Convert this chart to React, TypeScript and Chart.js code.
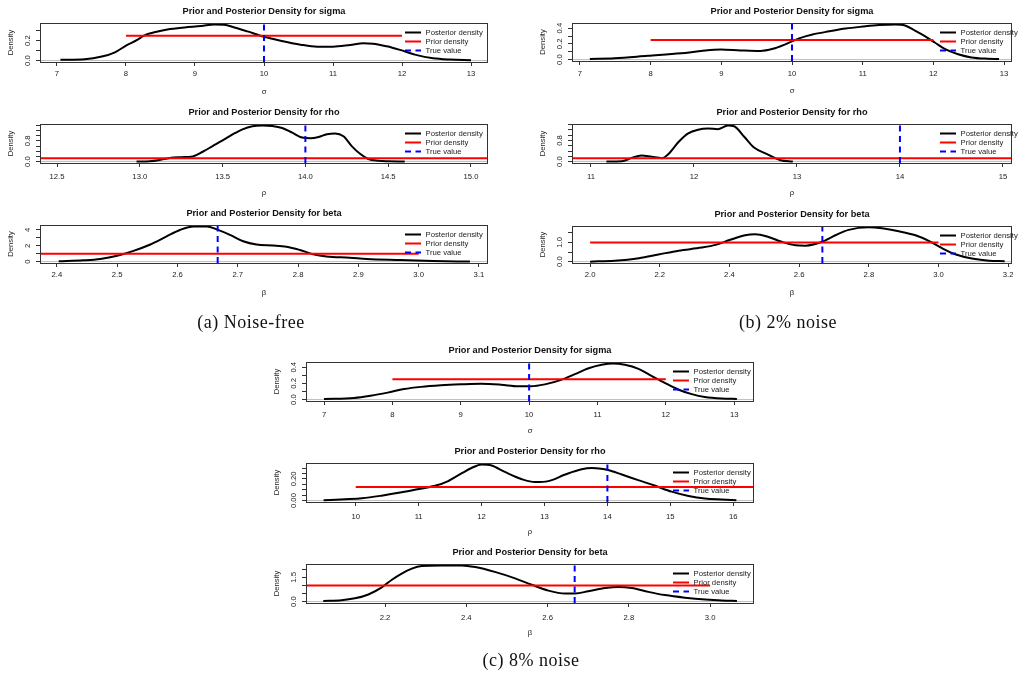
import React, { useEffect, useRef } from "react";
import { Chart, registerables } from "chart.js";

Chart.register(...registerables);
Chart.defaults.font.family = "'Liberation Sans', Arial, sans-serif";
Chart.defaults.color = "#222";

// ---------- posterior density curves ----------
const sigmaCleanX = [7.05, 7.4, 7.65, 7.84, 8.0, 8.17, 8.26, 8.46, 8.6, 8.85, 9.09, 9.28, 9.42, 9.57, 9.76, 10.0, 10.24, 10.53, 10.77, 11.0, 11.25, 11.44, 11.58, 11.78, 11.97, 12.2, 12.45, 12.7, 13.0];
const sigmaCleanY = [0.007, 0.013, 0.04, 0.083, 0.15, 0.21, 0.25, 0.293, 0.313, 0.333, 0.347, 0.363, 0.36, 0.333, 0.293, 0.24, 0.2, 0.16, 0.14, 0.14, 0.157, 0.173, 0.17, 0.143, 0.107, 0.057, 0.023, 0.01, 0.003];

const rhoCleanX = [12.98, 13.06, 13.12, 13.18, 13.25, 13.32, 13.38, 13.44, 13.5, 13.56, 13.62, 13.68, 13.74, 13.8, 13.86, 13.92, 13.98, 14.03, 14.08, 14.13, 14.18, 14.23, 14.28, 14.33, 14.38, 14.44, 14.5, 14.6];
const rhoCleanY = [0.0, 0.01, 0.06, 0.14, 0.17, 0.2, 0.38, 0.6, 0.82, 1.05, 1.25, 1.37, 1.4, 1.38, 1.3, 1.12, 0.93, 0.9, 0.95, 1.06, 1.09, 0.98, 0.6, 0.3, 0.1, 0.03, 0.01, 0.0];

const betaCleanX = [2.403, 2.444, 2.472, 2.5, 2.527, 2.555, 2.582, 2.604, 2.627, 2.649, 2.665, 2.687, 2.709, 2.731, 2.759, 2.781, 2.803, 2.825, 2.847, 2.886, 2.914, 2.969, 3.024, 3.085];
const betaCleanY = [0.04, 0.16, 0.33, 0.73, 1.35, 2.16, 3.18, 4.0, 4.45, 4.45, 4.08, 3.39, 2.57, 2.16, 2.04, 1.88, 1.47, 0.94, 0.65, 0.49, 0.33, 0.2, 0.08, 0.0];

const sigma2pctX = [7.14, 7.49, 7.96, 8.43, 8.71, 8.99, 9.27, 9.55, 9.73, 9.92, 10.1, 10.29, 10.53, 10.76, 11.0, 11.23, 11.46, 11.6, 11.74, 11.88, 12.02, 12.16, 12.35, 12.54, 12.77, 12.93];
const sigma2pctY = [0.008, 0.016, 0.048, 0.08, 0.109, 0.129, 0.117, 0.109, 0.137, 0.2, 0.27, 0.32, 0.36, 0.395, 0.42, 0.44, 0.448, 0.435, 0.37, 0.3, 0.218, 0.137, 0.069, 0.028, 0.012, 0.008];

const rho2pctX = [11.15, 11.3, 11.39, 11.49, 11.59, 11.69, 11.75, 11.85, 11.94, 12.04, 12.14, 12.23, 12.33, 12.39, 12.49, 12.58, 12.71, 12.84, 12.96];
const rho2pctY = [0.0, 0.01, 0.13, 0.23, 0.18, 0.13, 0.28, 0.74, 1.06, 1.21, 1.25, 1.23, 1.37, 1.34, 0.93, 0.54, 0.28, 0.05, 0.0];

const beta2pctX = [2.0, 2.07, 2.14, 2.196, 2.254, 2.32, 2.36, 2.4, 2.445, 2.474, 2.512, 2.55, 2.59, 2.618, 2.666, 2.704, 2.742, 2.8, 2.838, 2.886, 2.934, 2.972, 3.01, 3.05, 3.1, 3.145, 3.19];
const beta2pctY = [0.0, 0.05, 0.18, 0.37, 0.57, 0.73, 0.87, 1.12, 1.37, 1.42, 1.28, 1.03, 0.85, 0.83, 1.03, 1.37, 1.65, 1.78, 1.73, 1.58, 1.37, 1.08, 0.7, 0.37, 0.15, 0.05, 0.02];

const sigma8pctX = [7.0, 7.44, 7.68, 7.93, 8.17, 8.42, 8.71, 9.0, 9.3, 9.59, 9.84, 10.03, 10.23, 10.47, 10.67, 10.86, 11.06, 11.23, 11.4, 11.6, 11.79, 11.99, 12.18, 12.38, 12.57, 12.82, 13.04];
const sigma8pctY = [0.008, 0.02, 0.047, 0.086, 0.13, 0.157, 0.176, 0.188, 0.196, 0.184, 0.165, 0.165, 0.188, 0.243, 0.314, 0.384, 0.43, 0.447, 0.43, 0.38, 0.294, 0.204, 0.125, 0.067, 0.031, 0.012, 0.008];

const rho8pctX = [9.49, 9.83, 10.1, 10.41, 10.73, 11.05, 11.26, 11.47, 11.68, 11.84, 12.0, 12.16, 12.37, 12.64, 12.85, 13.06, 13.33, 13.59, 13.75, 13.9, 14.01, 14.23, 14.49, 14.76, 15.02, 15.29, 15.55, 15.82, 16.05];
const rho8pctY = [0.003, 0.012, 0.021, 0.045, 0.076, 0.112, 0.136, 0.18, 0.25, 0.3, 0.333, 0.324, 0.264, 0.197, 0.17, 0.179, 0.24, 0.288, 0.3, 0.294, 0.282, 0.24, 0.188, 0.136, 0.082, 0.042, 0.018, 0.009, 0.003];

const beta8pctX = [2.048, 2.093, 2.126, 2.159, 2.192, 2.216, 2.241, 2.266, 2.29, 2.34, 2.389, 2.422, 2.47, 2.52, 2.561, 2.602, 2.643, 2.668, 2.7, 2.742, 2.774, 2.807, 2.848, 2.889, 2.938, 2.988, 3.029, 3.066];
const beta8pctY = [0.04, 0.08, 0.2, 0.44, 0.88, 1.34, 1.74, 2.04, 2.2, 2.24, 2.24, 2.14, 1.84, 1.44, 1.04, 0.68, 0.5, 0.5, 0.64, 0.84, 0.9, 0.84, 0.6, 0.4, 0.24, 0.12, 0.06, 0.04];

// ---------- uniform priors and true parameter values ----------
const sigmaPrior = [8, 12];
const rhoPrior = [10, 18];
const betaPrior = [2, 3];
const sigmaTrue = 10;
const rhoTrue = 14;
const betaTrue = 8 / 3;

// ---------- axis limits ----------
const sigmaCleanLim = [6.754, 13.246];
const rhoCleanLim = [12.397, 15.103];
const betaCleanLim = [2.372, 3.115];
const sigma2pctLim = [6.887, 13.113];
const rho2pctLim = [10.816, 15.088];
const beta2pctLim = [1.948, 3.211];
const sigma8pctLim = [6.736, 13.29];
const rho8pctLim = [9.21, 16.33];
const beta8pctLim = [2.0055, 3.108];

// ---------- tick values and labels ----------
const sigmaXTicks = [7, 8, 9, 10, 11, 12, 13];
const sigmaXLabels = ["7", "8", "9", "10", "11", "12", "13"];
const rhoCleanXTicks = [12.5, 13, 13.5, 14, 14.5, 15];
const rhoCleanXLabels = ["12.5", "13.0", "13.5", "14.0", "14.5", "15.0"];
const betaCleanXTicks = [2.4, 2.5, 2.6, 2.7, 2.8, 2.9, 3.0, 3.1];
const betaCleanXLabels = ["2.4", "2.5", "2.6", "2.7", "2.8", "2.9", "3.0", "3.1"];
const rho2pctXTicks = [11, 12, 13, 14, 15];
const rho2pctXLabels = ["11", "12", "13", "14", "15"];
const beta2pctXTicks = [2.0, 2.2, 2.4, 2.6, 2.8, 3.0, 3.2];
const beta2pctXLabels = ["2.0", "2.2", "2.4", "2.6", "2.8", "3.0", "3.2"];
const rho8pctXTicks = [10, 11, 12, 13, 14, 15, 16];
const rho8pctXLabels = ["10", "11", "12", "13", "14", "15", "16"];
const beta8pctXTicks = [2.2, 2.4, 2.6, 2.8, 3.0];
const beta8pctXLabels = ["2.2", "2.4", "2.6", "2.8", "3.0"];

const sigmaCleanYTicks = [0, 0.1, 0.2, 0.3];
const sigmaCleanYLabels = ["0.0", "", "0.2", ""];
const rhoCleanYTicks = [0, 0.2, 0.4, 0.6, 0.8, 1.0, 1.2, 1.4];
const rhoCleanYLabels = ["0.0", "", "", "", "0.8", "", "", ""];
const betaCleanYTicks = [0, 1, 2, 3, 4];
const betaCleanYLabels = ["0", "", "2", "", "4"];
const sigma2pctYTicks = [0, 0.1, 0.2, 0.3, 0.4];
const sigma2pctYLabels = ["0.0", "", "0.2", "", "0.4"];
const rho2pctYTicks = [0, 0.2, 0.4, 0.6, 0.8, 1.0, 1.2, 1.4];
const rho2pctYLabels = ["0.0", "", "", "", "0.8", "", "", ""];
const beta2pctYTicks = [0, 0.5, 1.0, 1.5];
const beta2pctYLabels = ["0.0", "", "1.0", ""];
const sigma8pctYTicks = [0, 0.1, 0.2, 0.3, 0.4];
const sigma8pctYLabels = ["0.0", "", "0.2", "", "0.4"];
const rho8pctYTicks = [0, 0.05, 0.1, 0.15, 0.2, 0.25, 0.3];
const rho8pctYLabels = ["0.00", "", "", "", "0.20", "", ""];
const beta8pctYTicks = [0, 0.5, 1.0, 1.5, 2.0];
const beta8pctYLabels = ["0.0", "", "", "1.5", ""];

// ---------- page layout ----------
const Y_AXIS_W = 40;
const X_AXIS_H = 40;
const PAD_TOP = 24;
const PAD_RIGHT = 24;
const LEGEND_ROWS = [9.5, 18.5, 27.5];
const BASE_FONT = 7.7;
const FONT_FAMILY = "'Liberation Sans', Arial, sans-serif";

type Panel = {
  title: string;
  axisLabel: string;
  box: number[]; // left, top, right, bottom of the plot region on the page
  xlim: number[];
  xTicks: number[];
  xLabels: string[];
  yTicks: number[];
  yLabels: string[];
  postX: number[];
  postY: number[];
  prior: number[];
  truth: number;
  tickGap: number;
  legendDx: number;
};

const panels: Panel[] = [
  { title: "Prior and Posterior Density for sigma", axisLabel: "σ", box: [40, 23, 488, 62], xlim: sigmaCleanLim, xTicks: sigmaXTicks, xLabels: sigmaXLabels, yTicks: sigmaCleanYTicks, yLabels: sigmaCleanYLabels, postX: sigmaCleanX, postY: sigmaCleanY, prior: sigmaPrior, truth: sigmaTrue, tickGap: 12, legendDx: -83 },
  { title: "Prior and Posterior Density for rho", axisLabel: "ρ", box: [40, 124, 488, 163], xlim: rhoCleanLim, xTicks: rhoCleanXTicks, xLabels: rhoCleanXLabels, yTicks: rhoCleanYTicks, yLabels: rhoCleanYLabels, postX: rhoCleanX, postY: rhoCleanY, prior: rhoPrior, truth: rhoTrue, tickGap: 13.5, legendDx: -83 },
  { title: "Prior and Posterior Density for beta", axisLabel: "β", box: [40, 225, 488, 263], xlim: betaCleanLim, xTicks: betaCleanXTicks, xLabels: betaCleanXLabels, yTicks: betaCleanYTicks, yLabels: betaCleanYLabels, postX: betaCleanX, postY: betaCleanY, prior: betaPrior, truth: betaTrue, tickGap: 12, legendDx: -83 },
  { title: "Prior and Posterior Density for sigma", axisLabel: "σ", box: [572, 23, 1012, 61], xlim: sigma2pctLim, xTicks: sigmaXTicks, xLabels: sigmaXLabels, yTicks: sigma2pctYTicks, yLabels: sigma2pctYLabels, postX: sigma2pctX, postY: sigma2pctY, prior: sigmaPrior, truth: sigmaTrue, tickGap: 13, legendDx: -72 },
  { title: "Prior and Posterior Density for rho", axisLabel: "ρ", box: [572, 124, 1012, 163], xlim: rho2pctLim, xTicks: rho2pctXTicks, xLabels: rho2pctXLabels, yTicks: rho2pctYTicks, yLabels: rho2pctYLabels, postX: rho2pctX, postY: rho2pctY, prior: rhoPrior, truth: rhoTrue, tickGap: 14, legendDx: -72 },
  { title: "Prior and Posterior Density for beta", axisLabel: "β", box: [572, 226, 1012, 263], xlim: beta2pctLim, xTicks: beta2pctXTicks, xLabels: beta2pctXLabels, yTicks: beta2pctYTicks, yLabels: beta2pctYLabels, postX: beta2pctX, postY: beta2pctY, prior: betaPrior, truth: betaTrue, tickGap: 12, legendDx: -72 },
  { title: "Prior and Posterior Density for sigma", axisLabel: "σ", box: [306, 362, 754, 401], xlim: sigma8pctLim, xTicks: sigmaXTicks, xLabels: sigmaXLabels, yTicks: sigma8pctYTicks, yLabels: sigma8pctYLabels, postX: sigma8pctX, postY: sigma8pctY, prior: sigmaPrior, truth: sigmaTrue, tickGap: 14, legendDx: -81 },
  { title: "Prior and Posterior Density for rho", axisLabel: "ρ", box: [306, 463, 754, 502], xlim: rho8pctLim, xTicks: rho8pctXTicks, xLabels: rho8pctXLabels, yTicks: rho8pctYTicks, yLabels: rho8pctYLabels, postX: rho8pctX, postY: rho8pctY, prior: rhoPrior, truth: rhoTrue, tickGap: 15, legendDx: -81 },
  { title: "Prior and Posterior Density for beta", axisLabel: "β", box: [306, 564, 754, 603], xlim: beta8pctLim, xTicks: beta8pctXTicks, xLabels: beta8pctXLabels, yTicks: beta8pctYTicks, yLabels: beta8pctYLabels, postX: beta8pctX, postY: beta8pctY, prior: betaPrior, truth: betaTrue, tickGap: 15, legendDx: -81 },
];

const captions = [
  { text: "(a) Noise-free", cx: 251, cy: 322 },
  { text: "(b) 2% noise", cx: 788, cy: 322 },
  { text: "(c) 8% noise", cx: 531, cy: 660 },
];

// Box, title, rotated y tick labels and a borderless legend, in the style of base R graphics.
function makeDecorPlugin(p: Panel) {
  return {
    id: "rDecor",
    afterDraw(chart: any) {
      const { ctx, chartArea: a } = chart;
      const ys = chart.scales.y;
      ctx.save();

      ctx.strokeStyle = "#333";
      ctx.lineWidth = 1;
      ctx.setLineDash([]);
      ctx.strokeRect(Math.round(a.left) + 0.5, Math.round(a.top) + 0.5, Math.round(a.right - a.left) - 1, Math.round(a.bottom - a.top));

      ctx.fillStyle = "#111";
      ctx.font = `bold 9.2px ${FONT_FAMILY}`;
      ctx.textAlign = "center";
      ctx.textBaseline = "middle";
      ctx.fillText(p.title, (a.left + a.right) / 2, a.top - 12);

      ctx.fillStyle = "#222";
      ctx.font = `${BASE_FONT}px ${FONT_FAMILY}`;
      p.yTicks.forEach((v, i) => {
        const lab = p.yLabels[i];
        if (!lab) return;
        ctx.save();
        ctx.translate(a.left - 12.5, ys.getPixelForValue(v));
        ctx.rotate(-Math.PI / 2);
        ctx.fillText(lab, 0, 0);
        ctx.restore();
      });

      const x0 = a.right + p.legendDx;
      ctx.textAlign = "left";
      let row = 0;
      chart.data.datasets.forEach((ds: any) => {
        if (!ds.label) return;
        const y = a.top + LEGEND_ROWS[row++];
        ctx.strokeStyle = ds.borderColor;
        ctx.lineWidth = 2;
        ctx.setLineDash(ds.borderDash || []);
        ctx.beginPath();
        ctx.moveTo(x0, y);
        ctx.lineTo(x0 + 16, y);
        ctx.stroke();
        ctx.setLineDash([]);
        ctx.fillText(ds.label, x0 + 20.5, y);
      });
      ctx.restore();
    },
  };
}

function DensityPanel({ p }: { p: Panel }) {
  const ref = useRef<HTMLCanvasElement>(null);
  const [L, T, R, B] = p.box;
  const width = Y_AXIS_W + (R - L) + PAD_RIGHT;
  const height = PAD_TOP + (B - T) + X_AXIS_H;

  useEffect(() => {
    if (!ref.current) return;
    const peak = Math.max(...p.postY);
    const yMin = -0.04 * peak;
    const yMax = 1.04 * peak;
    const priorDensity = 1 / (p.prior[1] - p.prior[0]);
    const tickGrid = { display: true, drawOnChartArea: false, drawTicks: true, tickLength: 4, color: "#333", lineWidth: 1 };

    const chart = new Chart(ref.current, {
      type: "line",
      data: {
        datasets: [
          {
            label: "Posterior density",
            data: p.postX.map((x, i) => ({ x, y: p.postY[i] })),
            borderColor: "#000000",
            borderWidth: 2,
            cubicInterpolationMode: "monotone",
            pointRadius: 0,
            order: 3,
            clip: 0,
          },
          {
            label: "Prior density",
            data: [
              { x: p.prior[0], y: priorDensity },
              { x: p.prior[1], y: priorDensity },
            ],
            borderColor: "#ff0000",
            borderWidth: 2,
            pointRadius: 0,
            order: 2,
            clip: 0,
          },
          {
            label: "True value",
            data: [
              { x: p.truth, y: yMin },
              { x: p.truth, y: yMax },
            ],
            borderColor: "#0000ff",
            borderWidth: 2,
            borderDash: [6, 4.5],
            pointRadius: 0,
            order: 1,
            clip: 0,
          },
          {
            label: "",
            data: [
              { x: p.xlim[0], y: 0 },
              { x: p.xlim[1], y: 0 },
            ],
            borderColor: "#bebebe",
            borderWidth: 1,
            pointRadius: 0,
            order: 4,
            clip: 0,
          },
        ],
      } as any,
      options: {
        animation: false,
        responsive: false,
        devicePixelRatio: 1,
        events: [],
        layout: { padding: { top: PAD_TOP, right: PAD_RIGHT, left: 0, bottom: 0 } },
        plugins: { legend: { display: false }, title: { display: false }, tooltip: { enabled: false } },
        scales: {
          x: {
            type: "linear",
            bounds: "data",
            min: p.xlim[0],
            max: p.xlim[1],
            afterBuildTicks: (s: any) => {
              s.ticks = p.xTicks.map((v) => ({ value: v }));
            },
            afterFit: (s: any) => {
              s.height = X_AXIS_H;
            },
            ticks: {
              autoSkip: false,
              maxRotation: 0,
              minRotation: 0,
              padding: p.tickGap - 8.6,
              color: "#222",
              font: { size: BASE_FONT },
              callback: (_v: any, i: number) => p.xLabels[i],
            },
            grid: tickGrid,
            border: { display: false },
            title: { display: true, text: p.axisLabel, color: "#222", font: { size: BASE_FONT }, padding: { top: 0, bottom: 5.4 } },
          },
          y: {
            type: "linear",
            bounds: "data",
            min: yMin,
            max: yMax,
            afterBuildTicks: (s: any) => {
              s.ticks = p.yTicks.filter((v) => v <= yMax).map((v) => ({ value: v }));
            },
            afterFit: (s: any) => {
              s.width = Y_AXIS_W;
            },
            ticks: { display: false },
            grid: tickGrid,
            border: { display: false },
            title: { display: true, text: "Density", color: "#222", font: { size: BASE_FONT }, padding: { top: 6.4, bottom: 0 } },
          },
        },
      } as any,
      plugins: [makeDecorPlugin(p)],
    });
    return () => chart.destroy();
  }, [p]);

  return (
    <canvas
      ref={ref}
      width={width}
      height={height}
      style={{ position: "absolute", left: L - Y_AXIS_W, top: T - PAD_TOP, width, height }}
    />
  );
}

export default function App() {
  return (
    <div style={{ position: "absolute", left: 0, top: 0, width: 1027, height: 677, overflow: "hidden", background: "#ffffff" }}>
      {panels.map((p, i) => (
        <DensityPanel key={i} p={p} />
      ))}
      {captions.map((c) => (
        <div
          key={c.text}
          style={{
            position: "absolute",
            left: c.cx - 150,
            top: c.cy - 10,
            width: 300,
            height: 20,
            lineHeight: "20px",
            textAlign: "center",
            fontFamily: "'Liberation Serif', 'Times New Roman', serif",
            fontSize: 18,
            letterSpacing: 0.5,
            color: "#111",
          }}
        >
          {c.text}
        </div>
      ))}
    </div>
  );
}
